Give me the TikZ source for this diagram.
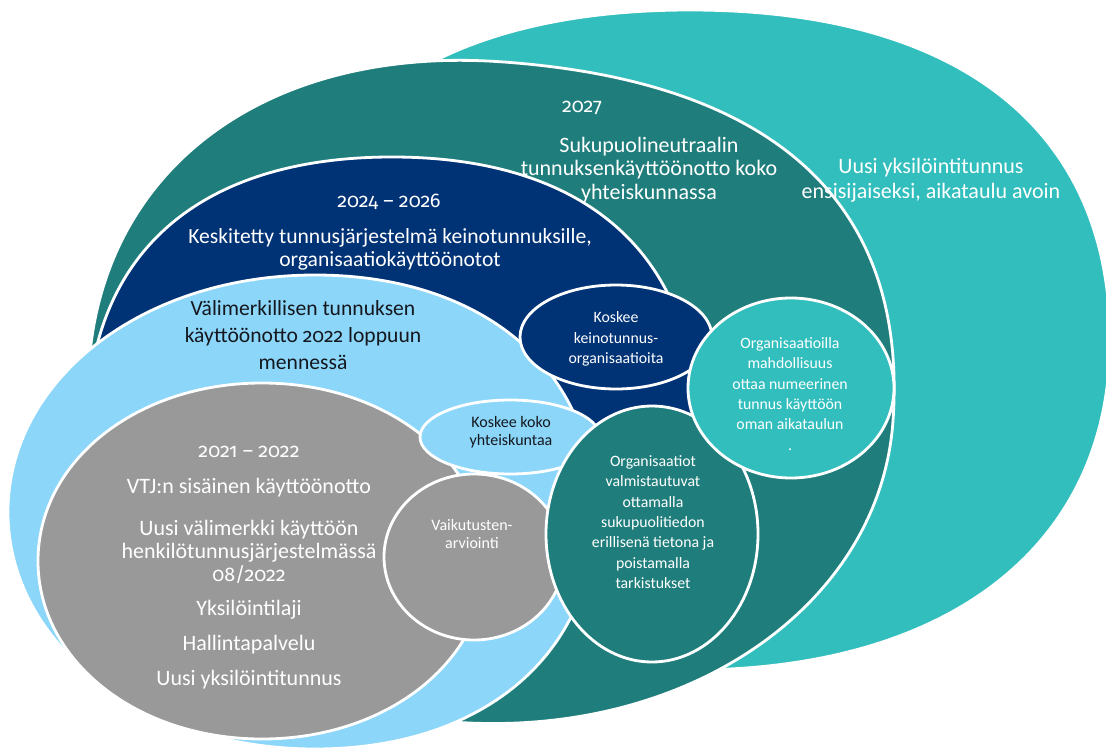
\documentclass[tikz,border=0pt]{standalone}
\usepackage{fontspec}
\setmainfont{Carlito}
\newfontfamily\yearfont{Fira Sans}[Numbers=OldStyle, Scale=0.9]
\usetikzlibrary{shapes.geometric,positioning}

\definecolor{tealA}{RGB}{51,190,190}
\definecolor{tealB}{RGB}{31,126,124}
\definecolor{navyC}{RGB}{0,50,118}
\definecolor{blueD}{RGB}{140,214,250}
\definecolor{grayE}{RGB}{153,153,153}
\definecolor{inkD}{RGB}{20,24,30}

\tikzset{
  rim/.style={draw=white, line width=2.8pt},
  txt/.style={text=white, align=center, inner sep=0pt, font=\fontsize{22}{24}\selectfont},
  small/.style={txt, font=\fontsize{15.8}{20.3}\selectfont},
  oval/.style={ellipse, rim, inner sep=0pt}
}

% soft oval: centre x, centre y, right, top, left, bottom radius,
% bulges (upper right/upper left/lower left/lower right), look
\def\blobk#1/#2/#3/#4\relax{\def\kur{#1}\def\kul{#2}\def\kll{#3}\def\klr{#4}}
\newcommand{\blob}[8]{%
  \blobk#7\relax
  \path[rim, shift={(#1,#2)}, #8]
    (#3,0) .. controls (#3,-\kur*#4) and (\kur*#3,-#4) .. (0,-#4)
    .. controls (-\kul*#5,-#4) and (-#5,-\kul*#4) .. (-#5,0)
    .. controls (-#5,\kll*#6) and (-\kll*#5,#6) .. (0,#6)
    .. controls (\klr*#3,#6) and (#3,\klr*#6) .. cycle;}

\begin{document}
\begin{tikzpicture}[x=1pt, y=-1pt]
  \useasboundingbox[fill=white] (0,0) rectangle (1106,749);
  \clip (0,0) rectangle (1106,749);

  % big ovals, back to front
  \blob{690}{340}{420}{330}{420}{330}{0.64/0.64/0.64/0.62}{fill=tealA}
  \blob{478}{392}{416}{331}{390}{331}{0.66/0.6/0.62/0.56}{fill=tealB, rotate=-4}
  \blob{392}{430}{305}{273}{305}{210}{0.64/0.64/0.64/0.64}{fill=navyC}
  \blob{315}{512}{280}{237}{307}{237}{0.6/0.56/0.56/0.6}{fill=blueD}
  \blob{262}{561}{224}{178}{224}{178}{0.56/0.56/0.56/0.56}{fill=grayE}

  % small ovals
  \node[oval, fill=blueD, minimum width=180pt, minimum height=74pt] (whole) at (510,437) {};
  \node[oval, fill=grayE, minimum width=180pt, minimum height=166pt] (impact) at (474,557) {};
  \node[oval, fill=navyC, minimum width=192pt, minimum height=104pt] (artif) at (616,337) {};
  \node[oval, fill=tealB, minimum width=212pt, minimum height=256pt] (prep) at (652,534) {};
  \node[oval, fill=tealA, minimum width=206pt, minimum height=180pt] (own) at (791,388) {};

  % texts
  \node[txt, font=\fontsize{22}{25}\selectfont] (open) at (931,180)
    {Uusi yksilöintitunnus\\ensisijaiseksi, aikataulu avoin};
  \node[txt] (y2027) at (582,108) {\yearfont 2027};
  \node[txt, font=\fontsize{22}{23.5}\selectfont] (neutral) at (649,170)
    {Sukupuolineutraalin\\tunnuksenkäyttöönotto koko\\yhteiskunnassa};
  \node[txt] (y2024) at (389,202) {\yearfont 2024 – 2026};
  \node[txt, font=\fontsize{21.6}{23}\selectfont] (central) at (390,249)
    {Keskitetty tunnusjärjestelmä keinotunnuksille,\\organisaatiokäyttöönotot};
  \node[txt, text=inkD, font=\fontsize{21.6}{27}\selectfont] (mark) at (303,335)
    {Välimerkillisen tunnuksen\\käyttöönotto {\yearfont 2022} loppuun\\mennessä};
  \node[txt] (y2021) at (249,452) {\yearfont 2021 – 2022};
  \node[txt] (vtj) at (249,488) {VTJ:n sisäinen käyttöönotto};
  \node[txt, font=\fontsize{22}{23}\selectfont] (newmark) at (249,552)
    {Uusi välimerkki käyttöön\\henkilötunnusjärjestelmässä\\{\yearfont 08/2022}};
  \node[txt] (kind) at (249,610) {Yksilöintilaji};
  \node[txt] (admin) at (249,645) {Hallintapalvelu};
  \node[txt] (newid) at (249,680) {Uusi yksilöintitunnus};

  \node[small, text=inkD, font=\fontsize{16}{18}\selectfont] (wholet) at (511,432)
    {Koskee koko\\yhteiskuntaa};
  \node[small, font=\fontsize{16}{18}\selectfont] (impactt) at (472,534)
    {Vaikutusten-\\arviointi};
  \node[small] (artift) at (616,339) {Koskee\\keinotunnus-\\organisaatioita};
  \node[small] (prept) at (653,522)
    {Organisaatiot\\valmistautuvat\\ottamalla\\sukupuolitiedon\\erillisenä tietona ja\\poistamalla\\tarkistukset};
  \node[small] (ownt) at (790,394)
    {Organisaatioilla\\mahdollisuus\\ottaa numeerinen\\tunnus käyttöön\\oman aikataulun\\.};
\end{tikzpicture}
\end{document}
